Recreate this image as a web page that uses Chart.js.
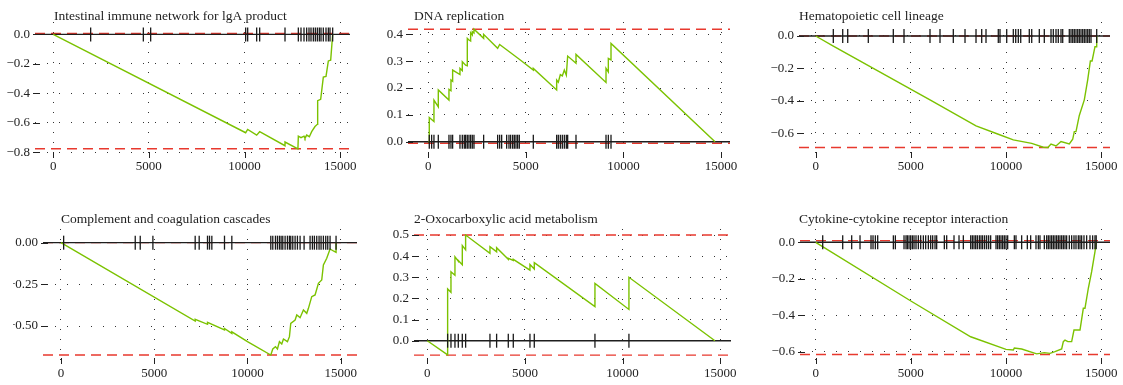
<!DOCTYPE html>
<html>
<head>
<meta charset="utf-8">
<title>GSEA enrichment plots</title>
<script src="https://cdn.jsdelivr.net/npm/chart.js@4.4.1/dist/chart.umd.min.js"></script>
<style>
  html, body { margin: 0; padding: 0; background: #fff; }
  #wrap { position: relative; width: 1123px; height: 385px; overflow: hidden; }
  .cell { position: absolute; }
</style>
</head>
<body>
<div id="wrap"></div>
<script>
// --- data ---
const xTicks = [0, 5000, 10000, 15000];

const titles = [
  'Intestinal immune network for lgA product',
  'DNA replication',
  'Hematopoietic cell lineage',
  'Complement and coagulation cascades',
  '2-Oxocarboxylic acid metabolism',
  'Cytokine-cytokine receptor interaction',
];

const yTicks1 = [0, -0.2, -0.4, -0.6, -0.8];
const yTicks2 = [0, 0.1, 0.2, 0.3, 0.4];
const yTicks3 = [0, -0.2, -0.4, -0.6];
const yTicks4 = [0, -0.25, -0.5];
const yTicks5 = [0, 0.1, 0.2, 0.3, 0.4, 0.5];
const yTicks6 = [0, -0.2, -0.4, -0.6];

// enrichment score extremes (red dashed lines)
const esTop = [0.007, 0.419, 0, 0, 0.5, 0.009];
const esBottom = [-0.776, -0.006, -0.688, -0.674, -0.068, -0.615];

// gene positions in the ranked list
const hits1 = [1958, 4711, 5094, 10059, 10164, 10634, 10791, 12115, 12812, 12951, 13108, 13247,
  13369, 13474, 13596, 13700, 13805, 13909, 13997, 14118, 14258, 14380, 14467, 14606];
const hits2 = [51, 171, 290, 513, 1059, 1162, 1247, 1623, 1743, 1845, 1914, 1999, 2084, 2170, 2255,
  2341, 2836, 3554, 3656, 3759, 4015, 4135, 4220, 4323, 4408, 4494, 4579, 4664, 5382, 6578, 6663,
  6766, 6868, 6971, 7073, 7142, 7569, 9107, 9226, 9363];
const hits3 = [925, 1419, 1682, 2764, 4078, 4640, 6006, 6532, 7231, 7846, 8424, 8723, 8949, 9595,
  9685, 10037, 10384, 10510, 10647, 10773, 11224, 11351, 11750, 12013, 12365, 12486, 12627, 12748,
  12890, 12980, 13326, 13416, 13505, 13589, 13678, 13768, 13852, 13941, 14030, 14115, 14204, 14293,
  14377, 14467, 14766];
const hits4 = [143, 3982, 4250, 4929, 7196, 7411, 7857, 7964, 8089, 8768, 9161, 11250, 11357, 11500,
  11607, 11714, 11804, 11893, 12018, 12143, 12250, 12321, 12429, 12554, 12679, 12821, 13036, 13357,
  13482, 13589, 13714, 13839, 13946, 14071, 14196, 14304, 14429, 14750];
const hits5 = [1041, 1212, 1416, 1587, 1792, 1962, 3208, 3549, 4147, 4403, 5256, 5478, 8584, 10324];
const hits6 = [368, 1419, 1891, 2329, 2907, 3012, 3135, 3257, 4081, 4186, 4641, 4746, 4816, 4904,
  4991, 5079, 5166, 5271, 5394, 5517, 5657, 5779, 5919, 6042, 6147, 6270, 6357, 6760, 6883, 7268,
  7531, 7758, 8144, 8231, 8319, 8406, 8494, 8599, 8687, 8774, 8879, 8984, 9089, 9194, 9475, 9562,
  9650, 9737, 9825, 9912, 10000, 10088, 10438, 10525, 10823, 11121, 11296, 11576, 11699, 11786,
  12014, 12137, 12224, 12312, 12399, 12487, 12574, 12662, 12750, 12837, 12925, 13012, 13100, 13187,
  13327, 13450, 13573, 13678, 13800, 13888, 13975, 14098, 14238, 14413, 14553, 14676, 14740];

// running enrichment score (vertices of the green curve)
const esX1 = [0, 10059, 10164, 10634, 10791, 12115, 12115, 12790, 12812, 12951, 13108, 13160, 13247,
  13387, 13509, 13683, 13805, 13822, 13979, 14118, 14258, 14380, 14502, 14606];
const esY1 = [0, -0.667, -0.645, -0.683, -0.66, -0.755, -0.73, -0.776, -0.69, -0.7, -0.69, -0.705,
  -0.683, -0.694, -0.66, -0.625, -0.61, -0.45, -0.44, -0.29, -0.285, -0.18, -0.175, 0];

const esX2 = [0, 51, 51, 290, 290, 513, 513, 1059, 1059, 1162, 1162, 1247, 1247, 1623, 1623, 1743,
  1743, 1914, 1999, 1999, 2084, 2170, 2170, 2255, 2255, 2341, 2341, 2836, 2836, 3554, 3656, 4664,
  5382, 5382, 6578, 6578, 6663, 6766, 6868, 6971, 7073, 7142, 7569, 7569, 9107, 9107, 9226, 9226,
  9363, 9363, 14693];
const esY2 = [0, 0, 0.09, 0.075, 0.155, 0.13, 0.193, 0.155, 0.195, 0.19, 0.23, 0.225, 0.267, 0.25,
  0.273, 0.265, 0.298, 0.285, 0.283, 0.385, 0.379, 0.375, 0.406, 0.398, 0.41, 0.405, 0.419, 0.385,
  0.4, 0.348, 0.362, 0.307, 0.267, 0.273, 0.193, 0.23, 0.222, 0.25, 0.245, 0.267, 0.248, 0.319,
  0.292, 0.325, 0.221, 0.273, 0.26, 0.31, 0.305, 0.366, 0];

const esX3 = [0, 925, 6006, 8424, 9595, 10384, 11351, 11960, 12200, 12365, 12627, 12890, 13326,
  13505, 13589, 13678, 13852, 14115, 14293, 14434, 14523, 14676, 14766, 14766];
const esY3 = [0, -0.063, -0.394, -0.555, -0.606, -0.641, -0.662, -0.686, -0.688, -0.666, -0.678,
  -0.651, -0.666, -0.637, -0.59, -0.59, -0.49, -0.394, -0.271, -0.154, -0.154, -0.066, -0.066, 0];

const esX4 = [0, 7196, 7196, 7857, 7857, 8768, 8768, 9161, 9161, 10000, 11250, 11357, 11500, 11607,
  11714, 11839, 11929, 12143, 12250, 12321, 12554, 12643, 12821, 13000, 13179, 13268, 13446, 13625,
  13804, 13982, 14071, 14250, 14429, 14607, 14750, 14750];
const esY4 = [0, -0.47, -0.46, -0.49, -0.478, -0.524, -0.515, -0.544, -0.535, -0.594, -0.674, -0.638,
  -0.624, -0.638, -0.594, -0.608, -0.578, -0.594, -0.564, -0.484, -0.464, -0.434, -0.45, -0.404,
  -0.424, -0.394, -0.324, -0.314, -0.244, -0.224, -0.134, -0.094, -0.038, -0.05, -0.058, 0];

const esX5 = [0, 1041, 1041, 1212, 1212, 1416, 1416, 1587, 1587, 1792, 1792, 1962, 1962, 3208, 3208,
  3549, 3549, 4147, 4147, 4403, 4403, 5256, 5256, 5478, 5478, 8584, 8584, 10324, 10324, 14727];
const esY5 = [0, -0.067, 0.245, 0.229, 0.326, 0.31, 0.397, 0.376, 0.38, 0.36, 0.45, 0.43, 0.5, 0.413,
  0.445, 0.421, 0.44, 0.385, 0.39, 0.38, 0.385, 0.334, 0.361, 0.339, 0.369, 0.161, 0.271, 0.148,
  0.3, 0];

const esX6 = [0, 5000, 8144, 10000, 10385, 10438, 10823, 11611, 12014, 12312, 12574, 12925, 13012,
  13100, 13250, 13450, 13573, 13888, 14063, 14150, 14326, 14501, 14676, 14740];
const esY6 = [0, -0.322, -0.518, -0.587, -0.591, -0.58, -0.585, -0.612, -0.605, -0.609, -0.6, -0.585,
  -0.545, -0.536, -0.545, -0.545, -0.481, -0.481, -0.362, -0.362, -0.252, -0.161, -0.051, 0];

// --- page layout (pixels on the 1123x385 page) ---
const panels = [
  { cell: [0, 0, 375, 192], area: [35, 22, 350, 155], x: [-951, 15512], y: [-0.818, 0.084],
    title: [54, 16], dec: 1, xPad: 4, hits: hits1, esX: esX1, esY: esY1, yTicks: yTicks1 },
  { cell: [375, 0, 375, 192], area: [408, 22, 730, 155], x: [-1040, 15461], y: [-0.0495, 0.446],
    title: [414, 16], dec: 1, xPad: 4, hits: hits2, esX: esX2, esY: esY2, yTicks: yTicks2 },
  { cell: [750, 0, 373, 192], area: [799, 22, 1110, 155], x: [-878, 15465], y: [-0.734, 0.0863],
    title: [799, 16], dec: 1, xPad: 4, hits: hits3, esX: esX3, esY: esY3, yTicks: yTicks3 },
  { cell: [0, 192, 375, 193], area: [43, 229, 357, 361], x: [-964, 15873], y: [-0.71, 0.082],
    title: [61, 219], dec: 2, xPad: 5, hits: hits4, esX: esX4, esY: esY4, yTicks: yTicks4 },
  { cell: [375, 192, 375, 193], area: [414, 229, 731, 361], x: [-681, 15550], y: [-0.096, 0.5286],
    title: [414, 219], dec: 1, xPad: 5, hits: hits5, esX: esX5, esY: esY5, yTicks: yTicks5 },
  { cell: [750, 192, 373, 193], area: [800, 229, 1110, 361], x: [-825, 15465], y: [-0.651, 0.073],
    title: [799, 219], dec: 1, xPad: 5, hits: hits6, esX: esX6, esY: esY6, yTicks: yTicks6 },
];

const Y_AXIS_W = 30;
const X_AXIS_H = 20;
const FONT = 'Liberation Serif';
const corLinha = '#7bc200';
const corTracejado = '#e8392e';

// red dashed extremes + black zero line, under the datasets
const refLines = {
  id: 'refLines',
  beforeDatasetsDraw(chart, args, opts) {
    const { ctx, chartArea: a, scales: { y } } = chart;
    ctx.save();
    ctx.lineWidth = 1.4;
    ctx.strokeStyle = corTracejado;
    ctx.setLineDash([10, 6]);
    [opts.top, opts.bottom].forEach((v) => {
      const py = y.getPixelForValue(v);
      ctx.beginPath();
      ctx.moveTo(a.left, py);
      ctx.lineTo(a.right, py);
      ctx.stroke();
    });
    ctx.setLineDash([]);
    ctx.strokeStyle = '#1e1e1e';
    const p0 = y.getPixelForValue(0);
    ctx.beginPath();
    ctx.moveTo(a.left, p0);
    ctx.lineTo(a.right, p0);
    ctx.stroke();
    ctx.restore();
  },
};

// short tick marks sitting on the panel edge
const axisMarks = {
  id: 'axisMarks',
  afterDatasetsDraw(chart) {
    const { ctx, chartArea: a, scales: { x, y } } = chart;
    ctx.save();
    ctx.strokeStyle = '#222';
    ctx.lineWidth = 1;
    ctx.beginPath();
    y.ticks.forEach((t) => {
      const py = Math.round(y.getPixelForValue(t.value)) + 0.5;
      ctx.moveTo(a.left - 2, py);
      ctx.lineTo(a.left + 5, py);
    });
    x.ticks.forEach((t) => {
      const px = Math.round(x.getPixelForValue(t.value)) + 0.5;
      ctx.moveTo(px, a.bottom - 3);
      ctx.lineTo(px, a.bottom + 3);
    });
    ctx.stroke();
    ctx.restore();
  },
};

const panelTitle = {
  id: 'panelTitle',
  afterDraw(chart, args, opts) {
    const { ctx } = chart;
    ctx.save();
    ctx.font = '13.5px "' + FONT + '"';
    ctx.fillStyle = '#222';
    ctx.textAlign = 'left';
    ctx.textBaseline = 'middle';
    ctx.fillText(opts.text, opts.x, opts.y);
    ctx.restore();
  },
};

function fmtY(dec) {
  return (v) => (v < 0 ? '\u2212' : '') + Math.abs(v).toFixed(dec);
}

function initPanel(i) {
  const p = panels[i];
  const [cx, cy, cw, ch] = p.cell;
  const [al, at, ar, ab] = p.area;

  const div = document.createElement('div');
  div.className = 'cell';
  div.style.left = cx + 'px';
  div.style.top = cy + 'px';
  div.style.width = cw + 'px';
  div.style.height = ch + 'px';
  const canvas = document.createElement('canvas');
  canvas.width = cw;
  canvas.height = ch;
  canvas.style.width = cw + 'px';
  canvas.style.height = ch + 'px';
  div.appendChild(canvas);
  document.getElementById('wrap').appendChild(div);

  const data = {
    datasets: [
      {
        label: 'hits',
        data: p.hits.map((x) => ({ x: x, y: 0 })),
        pointStyle: 'line',
        pointRotation: 90,
        pointRadius: 7,
        pointHoverRadius: 7,
        pointBorderColor: '#1a1a1a',
        pointBorderWidth: 1.3,
        showLine: false,
        order: 0,
      },
      {
        label: 'ES',
        data: p.esX.map((x, j) => ({ x: x, y: p.esY[j] })),
        borderColor: corLinha,
        borderWidth: 1.4,
        pointRadius: 0,
        showLine: true,
        tension: 0,
        order: 1,
      },
    ],
  };

  const config = {
    type: 'scatter',
    data: data,
    plugins: [refLines, axisMarks, panelTitle],
    options: {
      responsive: false,
      animation: false,
      devicePixelRatio: 1,
      layout: {
        padding: {
          left: al - cx - Y_AXIS_W,
          top: at - cy,
          right: cx + cw - ar,
          bottom: cy + ch - ab - X_AXIS_H,
        },
      },
      scales: {
        x: {
          type: 'linear',
          min: p.x[0],
          max: p.x[1],
          afterFit: (s) => { s.height = X_AXIS_H; },
          afterBuildTicks: (s) => { s.ticks = xTicks.map((v) => ({ value: v })); },
          grid: { color: 'rgba(0,0,0,0.8)', lineWidth: 1, drawTicks: false },
          border: { display: false, dash: [1, 9] },
          ticks: {
            autoSkip: false,
            maxRotation: 0,
            padding: p.xPad,
            color: '#222',
            font: { family: FONT, size: 13 },
            callback: (v) => String(v),
          },
        },
        y: {
          type: 'linear',
          min: p.y[0],
          max: p.y[1],
          afterFit: (s) => { s.width = Y_AXIS_W; },
          afterBuildTicks: (s) => { s.ticks = p.yTicks.map((v) => ({ value: v })); },
          grid: { color: 'rgba(0,0,0,0.8)', lineWidth: 1, drawTicks: false },
          border: { display: false, dash: [1, 11] },
          ticks: {
            autoSkip: false,
            padding: 5,
            color: '#222',
            font: { family: FONT, size: 13 },
            callback: fmtY(p.dec),
          },
        },
      },
      plugins: {
        legend: { display: false },
        tooltip: { enabled: false },
        refLines: { top: esTop[i], bottom: esBottom[i] },
        panelTitle: { text: titles[i], x: p.title[0] - cx, y: p.title[1] - cy },
      },
    },
  };

  new Chart(canvas.getContext('2d'), config);
}

for (let i = 0; i < panels.length; i++) initPanel(i);
</script>
</body>
</html>
